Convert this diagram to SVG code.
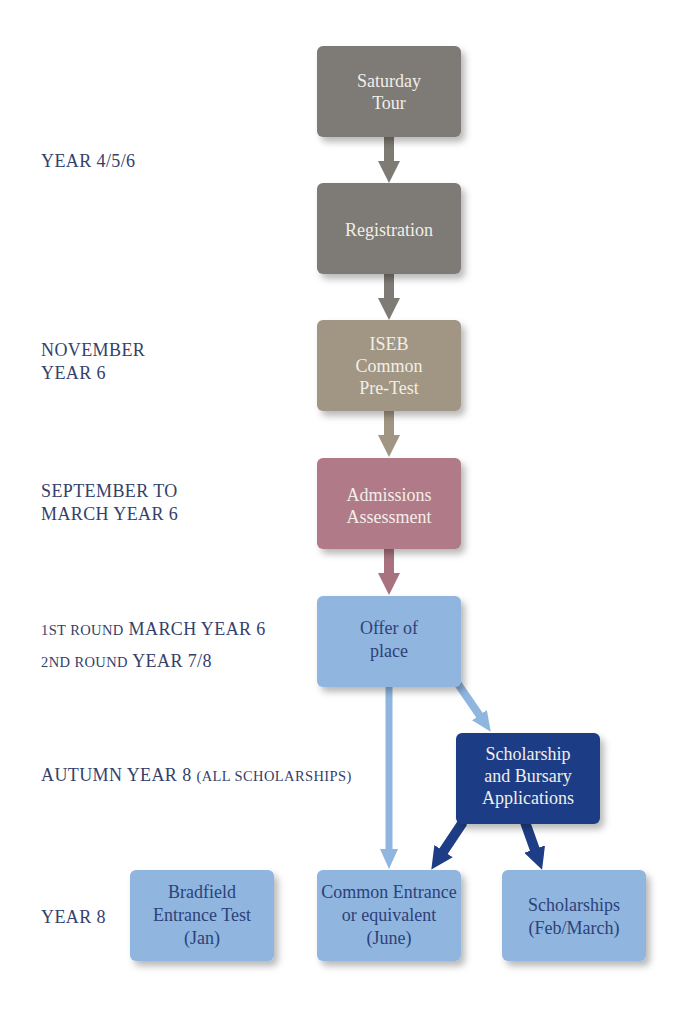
<svg xmlns="http://www.w3.org/2000/svg" width="678" height="1024" viewBox="0 0 678 1024">
<style>
.lbl{font-family:"Liberation Serif",serif;font-size:18px;letter-spacing:0.4px;fill:#34406a}
.sc{font-size:14.5px}
.bt{font-family:"Liberation Serif",serif;font-size:18px;text-anchor:middle;fill:#f2eee8}
.bd{fill:#2d4178}
.box{filter:url(#sh)}
</style>
<defs>
<filter id="sh" x="-20%" y="-20%" width="150%" height="150%">
<feDropShadow dx="4" dy="5" stdDeviation="3.5" flood-color="#000" flood-opacity="0.28"/>
</filter>
<marker id="hg" viewBox="0 -11 22 22" markerWidth="22" markerHeight="22" refX="1" refY="0" orient="auto" markerUnits="userSpaceOnUse"><path d="M0,-11L22,0L0,11z" fill="#7e7a74"/></marker>
<marker id="hi" viewBox="0 -11 22 22" markerWidth="22" markerHeight="22" refX="1" refY="0" orient="auto" markerUnits="userSpaceOnUse"><path d="M0,-11L22,0L0,11z" fill="#a09683"/></marker>
<marker id="ha" viewBox="0 -11 22 22" markerWidth="22" markerHeight="22" refX="1" refY="0" orient="auto" markerUnits="userSpaceOnUse"><path d="M0,-11L22,0L0,11z" fill="#a8727f"/></marker>
<marker id="hl" viewBox="0 -10 20 20" markerWidth="20" markerHeight="20" refX="1" refY="0" orient="auto" markerUnits="userSpaceOnUse"><path d="M0,-9L20,0L0,9z" fill="#8fb6df"/></marker>
<marker id="hd" viewBox="0 -11 22 22" markerWidth="22" markerHeight="22" refX="1" refY="0" orient="auto" markerUnits="userSpaceOnUse"><path d="M0,-11L22,0L0,11z" fill="#1f3d86"/></marker>
</defs>
<rect width="678" height="1024" fill="#ffffff"/>

<g id="connectors" fill="none">
<line x1="389" y1="136" x2="389" y2="162" stroke="#7e7a74" stroke-width="10" marker-end="url(#hg)"/>
<line x1="389" y1="273" x2="389" y2="299" stroke="#7e7a74" stroke-width="10" marker-end="url(#hg)"/>
<line x1="389" y1="410" x2="389" y2="436" stroke="#a09683" stroke-width="10" marker-end="url(#hi)"/>
<line x1="389" y1="548" x2="389" y2="574" stroke="#a8727f" stroke-width="10" marker-end="url(#ha)"/>
<line x1="389" y1="686" x2="389" y2="850" stroke="#8fb6df" stroke-width="7" marker-end="url(#hl)"/>
<line x1="458" y1="684" x2="480" y2="716" stroke="#8fb6df" stroke-width="8" marker-end="url(#hl)"/>
<line x1="463" y1="822" x2="443" y2="852" stroke="#1f3d86" stroke-width="10" marker-end="url(#hd)"/>
<line x1="525" y1="822" x2="535" y2="850" stroke="#1f3d86" stroke-width="10" marker-end="url(#hd)"/>
</g>

<g id="labels">
<text class="lbl" x="41" y="167">YEAR 4/5/6</text>
<text class="lbl" x="41" y="356">NOVEMBER</text>
<text class="lbl" x="41" y="379">YEAR 6</text>
<text class="lbl" x="41" y="497">SEPTEMBER TO</text>
<text class="lbl" x="41" y="520">MARCH YEAR 6</text>
<text class="lbl" x="41" y="635"><tspan class="sc">1ST ROUND</tspan> MARCH YEAR 6</text>
<text class="lbl" x="41" y="667"><tspan class="sc">2ND ROUND</tspan> YEAR 7/8</text>
<text class="lbl" x="41" y="781">AUTUMN YEAR 8 <tspan class="sc">(ALL SCHOLARSHIPS)</tspan></text>
<text class="lbl" x="41" y="923">YEAR 8</text>
</g>

<g id="saturday-tour">
<rect class="box" x="317" y="46" width="144" height="91" rx="6" fill="#7e7a74"/>
<text class="bt" x="389" y="87">Saturday</text>
<text class="bt" x="389" y="109">Tour</text>
</g>
<g id="registration">
<rect class="box" x="317" y="183" width="144" height="91" rx="6" fill="#7e7a74"/>
<text class="bt" x="389" y="236">Registration</text>
</g>
<g id="iseb">
<rect class="box" x="317" y="320" width="144" height="91" rx="6" fill="#a09683"/>
<text class="bt" x="389" y="350">ISEB</text>
<text class="bt" x="389" y="372">Common</text>
<text class="bt" x="389" y="394">Pre-Test</text>
</g>
<g id="admissions">
<rect class="box" x="317" y="458" width="144" height="91" rx="6" fill="#b17a89"/>
<text class="bt" x="389" y="501">Admissions</text>
<text class="bt" x="389" y="523">Assessment</text>
</g>
<g id="offer">
<rect class="box" x="317" y="596" width="144" height="91" rx="6" fill="#90b5df"/>
<text class="bt bd" x="389" y="634">Offer of</text>
<text class="bt bd" x="389" y="657">place</text>
</g>
<g id="scholarship-bursary">
<rect class="box" x="456" y="733" width="144" height="91" rx="6" fill="#1f3d86"/>
<text class="bt" x="528" y="760">Scholarship</text>
<text class="bt" x="528" y="782">and Bursary</text>
<text class="bt" x="528" y="804">Applications</text>
</g>
<g id="bradfield">
<rect class="box" x="130" y="870" width="144" height="91" rx="6" fill="#90b5df"/>
<text class="bt bd" x="202" y="898">Bradfield</text>
<text class="bt bd" x="202" y="921">Entrance Test</text>
<text class="bt bd" x="202" y="944">(Jan)</text>
</g>
<g id="common-entrance">
<rect class="box" x="317" y="870" width="144" height="91" rx="6" fill="#90b5df"/>
<text class="bt bd" x="389" y="898">Common Entrance</text>
<text class="bt bd" x="389" y="921">or equivalent</text>
<text class="bt bd" x="389" y="944">(June)</text>
</g>
<g id="scholarships">
<rect class="box" x="502" y="870" width="144" height="91" rx="6" fill="#90b5df"/>
<text class="bt bd" x="574" y="911">Scholarships</text>
<text class="bt bd" x="574" y="934">(Feb/March)</text>
</g>
</svg>
